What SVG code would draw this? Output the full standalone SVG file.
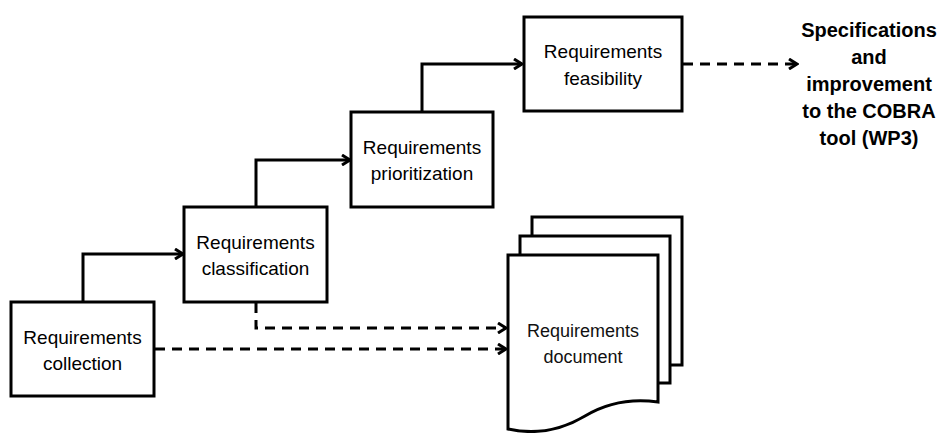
<svg xmlns="http://www.w3.org/2000/svg" width="943" height="433" viewBox="0 0 943 433">
<style>
.box{fill:#fff;stroke:#000;stroke-width:3}
.t{font-family:"Liberation Sans",Arial,sans-serif;font-size:19px;fill:#000;text-anchor:middle}
.tb{font-family:"Liberation Sans",Arial,sans-serif;font-size:20px;font-weight:bold;fill:#000;text-anchor:middle}
.td{font-family:"Liberation Sans",Arial,sans-serif;font-size:18px;fill:#111;text-anchor:middle}
.c{fill:none;stroke:#000;stroke-width:3;marker-end:url(#ah)}
.d{stroke-dasharray:10,7}
</style>
<defs>
<marker id="ah" markerWidth="12" markerHeight="12" refX="10" refY="6" orient="auto" markerUnits="userSpaceOnUse">
<path d="M2,1 L10,6 L2,11" fill="none" stroke="#000" stroke-width="3"/>
</marker>
</defs>
<rect width="943" height="433" fill="#fff"/>
<g id="connectors">
<path class="c" d="M83,301 V254 H183"/>
<path class="c" d="M256,207 V160 H350"/>
<path class="c" d="M422,111 V64 H522"/>
<path class="c d" d="M683,64 H797"/>
<path class="c d" d="M256,303 V328 H506"/>
<path class="c d" d="M155,349 H506"/>
</g>
<g id="collection">
<rect class="box" x="11" y="302" width="143" height="94"/>
<text class="t" x="82.5" y="344">Requirements</text>
<text class="t" x="82.5" y="370">collection</text>
</g>
<g id="classification">
<rect class="box" x="184" y="207" width="143" height="95"/>
<text class="t" x="255.5" y="249">Requirements</text>
<text class="t" x="255.5" y="275">classification</text>
</g>
<g id="prioritization">
<rect class="box" x="351" y="112" width="142" height="95"/>
<text class="t" x="422" y="154">Requirements</text>
<text class="t" x="422" y="180">prioritization</text>
</g>
<g id="feasibility">
<rect class="box" x="524" y="17" width="158" height="94"/>
<text class="t" x="603" y="58">Requirements</text>
<text class="t" x="603" y="85">feasibility</text>
</g>
<g id="output">
<text class="tb" x="869" y="37">Specifications</text>
<text class="tb" x="869" y="64">and</text>
<text class="tb" x="869" y="91">improvement</text>
<text class="tb" x="869" y="118">to the COBRA</text>
<text class="tb" x="869" y="145">tool (WP3)</text>
</g>
<g id="document">
<rect class="box" x="532" y="217" width="150" height="148"/>
<rect class="box" x="520" y="236" width="150" height="147"/>
<path class="box" d="M508,255 H658 V402 C630,398 605,404 585,416 C565,428 540,436 508,429 Z"/>
<text class="td" x="583" y="337">Requirements</text>
<text class="td" x="583" y="363">document</text>
</g>
</svg>
